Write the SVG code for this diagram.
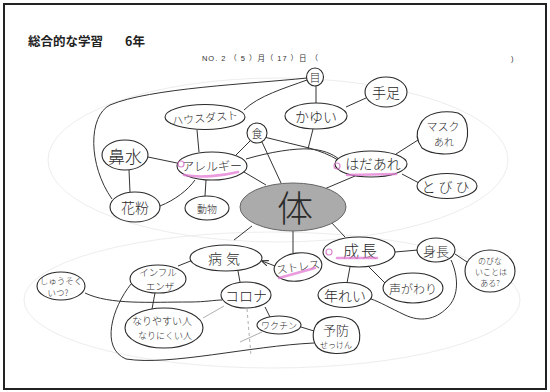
<svg xmlns="http://www.w3.org/2000/svg" width="550" height="392" viewBox="0 0 550 392">
<defs>
<style>
.n{fill:#fff;stroke:#2a2a2a;stroke-width:1.1}
.t{font-family:"Noto Sans CJK JP","Noto Sans",sans-serif;fill:#2a2a2a;text-anchor:middle;dominant-baseline:central;font-weight:300}
.c{fill:none;stroke:#333;stroke-width:1}
.f{fill:none;stroke:#999;stroke-width:0.8}
.g{fill:none;stroke:#ededed;stroke-width:1}
.p{fill:none;stroke:#e27ad2;stroke-width:2.6;stroke-linecap:round;opacity:0.75}
.pc{fill:none;stroke:#d36ac4;stroke-width:1.2;opacity:0.8}
</style>
<marker id="ah" viewBox="0 0 10 10" refX="9" refY="5" markerWidth="7" markerHeight="7" orient="auto">
<path d="M0,1 L10,5 L0,9" fill="none" stroke="#333" stroke-width="1.5"/>
</marker>
</defs>
<rect x="0" y="0" width="550" height="392" fill="#fff"/>
<rect x="4" y="4" width="542" height="385" fill="none" stroke="#222" stroke-width="2"/>
<text x="28" y="46" font-family="'Noto Sans CJK JP',sans-serif" font-weight="bold" font-size="12.5" fill="#222">総合的な学習</text>
<text x="125" y="46" font-family="'Noto Sans CJK JP',sans-serif" font-weight="bold" font-size="12.5" fill="#222">6年</text>
<text x="202" y="61" font-family="'Liberation Sans','Noto Sans CJK JP',sans-serif" font-size="7.5" fill="#333" textLength="116" lengthAdjust="spacing">NO. 2 （ 5 ）月（ 17 ）日 （</text>
<text x="511" y="61" font-family="'Liberation Sans',sans-serif" font-size="7.5" fill="#333">)</text>

<g id="faint">
<ellipse class="g" cx="278" cy="160" rx="230" ry="82"/>
<ellipse class="g" cx="272" cy="300" rx="248" ry="68"/>
</g>

<g id="connectors">
<path class="c" d="M307,78 C250,84 150,88 110,105 C88,116 88,165 112,199"/>
<path class="c" d="M307,80 C285,88 258,96 244,110"/>
<path class="c" d="M316,86 L316,103"/>
<path class="c" d="M346,107 L366,98"/>
<path class="c" d="M148,157 L177,163"/>
<path class="c" d="M129,170 L130,192"/>
<path class="c" d="M160,206 C175,200 188,190 195,180"/>
<path class="c" d="M199,152 L197,130"/>
<path class="c" d="M206,180 L205,196"/>
<path class="c" d="M236,155 L250,141"/>
<path class="c" d="M246,159 C270,152 295,148 310,149 C322,150 332,153 340,160"/>
<path class="c" d="M264,137 L309,148 C320,151 330,155 338,160"/>
<path class="c" d="M313,129 L308,149"/>
<path class="c" d="M244,172 L266,185"/>
<path class="c" d="M262,142 L281,183"/>
<path class="c" d="M355,176 L322,190"/>
<path class="c" d="M396,154 L418,140"/>
<path class="c" d="M402,174 L419,183"/>
<path class="c" d="M252,226 L234,240"/>
<path class="c" d="M293,230 L293,253"/>
<path class="c" d="M330,221 L345,237"/>
<path class="c" d="M275,266 L262,261" marker-end="url(#ah)"/>
<path class="c" d="M193,260 L178,266"/>
<path class="c" d="M238,271 L240,282"/>
<path class="c" d="M85,293 C110,305 150,302 190,302 C205,302 215,300 222,300"/>
<path class="c" d="M155,293 L152,309"/>
<path class="f" d="M203,318 L224,306"/>
<path class="c" d="M265,307 L270,317"/>
<path class="c" d="M301,327 L314,331"/>
<path class="c" d="M131,284 C112,308 100,348 126,359 C170,366 250,346 314,343"/>
<path class="f" d="M247,309 L251,356" stroke-dasharray="3,3"/>
<path class="f" d="M262,332 L240,342"/>
<path class="c" d="M395,252 L418,250"/>
<path class="c" d="M455,254 L467,262"/>
<path class="c" d="M350,267 L347,283"/>
<path class="c" d="M368,266 L387,285"/>
<path class="c" d="M451,260 C458,275 460,296 447,308 C435,320 420,322 405,315 C390,308 380,302 371,299"/>
</g>

<g id="n-me"><ellipse class="n" cx="315" cy="77" rx="8.5" ry="9"/><text class="t" x="315" y="77" font-size="11">目</text></g>
<g id="n-teashi"><ellipse class="n" cx="386" cy="92" rx="21" ry="15"/><text class="t" x="386" y="92" font-size="14">手足</text></g>
<g id="n-kayui"><ellipse class="n" cx="316" cy="116" rx="31" ry="13"/><text class="t" x="316" y="116" font-size="14">かゆい</text></g>
<g id="n-housedust"><ellipse class="n" cx="205" cy="117" rx="40" ry="12.5"/><text class="t" x="205" y="117" font-size="11" transform="rotate(-5 205 117)">ハウスダスト</text></g>
<g id="n-shoku"><ellipse class="n" cx="257" cy="133" rx="10" ry="10"/><text class="t" x="257" y="133" font-size="11">食</text></g>
<g id="n-hanamizu"><ellipse class="n" cx="125" cy="155" rx="23" ry="15"/><text class="t" x="125" y="155" font-size="17">鼻水</text></g>
<g id="n-allergy"><ellipse class="n" cx="212" cy="166" rx="35" ry="14"/><text class="t" x="212" y="165" font-size="12">アレルギー</text><path class="p" d="M184,175 C200,178 222,176 238,172"/><circle class="pc" cx="181" cy="164" r="3"/></g>
<g id="n-kafun"><ellipse class="n" cx="135" cy="207" rx="25" ry="15"/><text class="t" x="135" y="207" font-size="14">花粉</text></g>
<g id="n-doubutsu"><ellipse class="n" cx="207" cy="208" rx="22" ry="12"/><text class="t" x="207" y="208" font-size="10">動物</text></g>
<g id="n-mask"><path class="n" d="M420,125 C425,112 445,110 458,113 C470,118 470,140 462,150 C452,156 432,155 422,148 C416,140 416,132 420,125 Z"/><text class="t" x="443" y="126" font-size="11">マスク</text><text class="t" x="444" y="141" font-size="10">あれ</text></g>
<g id="n-hadaare"><ellipse class="n" cx="371" cy="164" rx="36" ry="13"/><text class="t" x="373" y="163" font-size="14">はだあれ</text><path class="p" d="M347,175 L396,174"/><circle class="pc" cx="337" cy="166" r="3"/></g>
<g id="n-tobihi"><ellipse class="n" cx="447" cy="186" rx="30" ry="12.5"/><text class="t" x="447" y="186" font-size="14" letter-spacing="3">とびひ</text></g>
<g id="n-karada"><ellipse cx="293" cy="207" rx="53" ry="24" fill="#ababab" stroke="#666" stroke-width="1"/><text class="t" x="295" y="206" font-size="36" fill="#444" font-weight="200">体</text></g>
<g id="n-byouki"><ellipse class="n" cx="226" cy="258" rx="36" ry="13"/><text class="t" x="226" y="258" font-size="14" letter-spacing="4">病気</text></g>
<g id="n-stress"><ellipse class="n" cx="298" cy="267" rx="24" ry="14" transform="rotate(-8 298 267)"/><text class="t" x="298" y="266" font-size="11" transform="rotate(-8 298 266)">ストレス</text><path class="p" d="M279,278 L315,268"/></g>
<g id="n-seichou"><ellipse class="n" cx="359" cy="252" rx="36" ry="15"/><text class="t" x="361" y="250" font-size="16" letter-spacing="2">成長</text><path class="p" d="M337,258 L377,258"/><circle class="pc" cx="329" cy="252" r="3"/></g>
<g id="n-shinchou"><ellipse class="n" cx="436" cy="250" rx="19" ry="12"/><text class="t" x="436" y="250" font-size="13">身長</text></g>
<g id="n-nobinai"><ellipse class="n" cx="490" cy="271" rx="25" ry="21"/><text class="t" x="490" y="260" font-size="8">のびな</text><text class="t" x="491" y="271" font-size="8">いことは</text><text class="t" x="490" y="282" font-size="8">ある?</text></g>
<g id="n-nenrei"><ellipse class="n" cx="345" cy="295" rx="27" ry="12.5"/><text class="t" x="345" y="295" font-size="14">年れい</text></g>
<g id="n-koegawari"><ellipse class="n" cx="413" cy="288" rx="30" ry="15"/><text class="t" x="413" y="288" font-size="12">声がわり</text></g>
<g id="n-shuusoku"><ellipse class="n" cx="61" cy="286" rx="24" ry="14"/><text class="t" x="61" y="280" font-size="8.5">しゅうそく</text><text class="t" x="58" y="292" font-size="8.5">いつ?</text></g>
<g id="n-influ"><ellipse class="n" cx="158" cy="279" rx="28" ry="14"/><text class="t" x="158" y="272" font-size="9.5">インフル</text><text class="t" x="160" y="286" font-size="9.5">エンザ</text></g>
<g id="n-corona"><ellipse class="n" cx="246" cy="295" rx="25" ry="13"/><text class="t" x="246" y="295" font-size="14">コロナ</text></g>
<g id="n-nariyasui"><ellipse class="n" cx="164" cy="328" rx="39" ry="20"/><text class="t" x="162" y="320" font-size="10">なりやすい人</text><text class="t" x="165" y="335" font-size="9">なりにくい人</text></g>
<g id="n-vaccine"><ellipse class="n" cx="279" cy="325" rx="22" ry="9"/><text class="t" x="279" y="325" font-size="9">ワクチン</text></g>
<g id="n-yobou"><path class="n" d="M316,325 C322,316 340,314 352,320 C362,326 362,344 354,350 C344,355 326,355 318,348 C312,342 312,332 316,325 Z"/><text class="t" x="336" y="329" font-size="13">予防</text><text class="t" x="336" y="344" font-size="8">せっけん</text></g>
</svg>
